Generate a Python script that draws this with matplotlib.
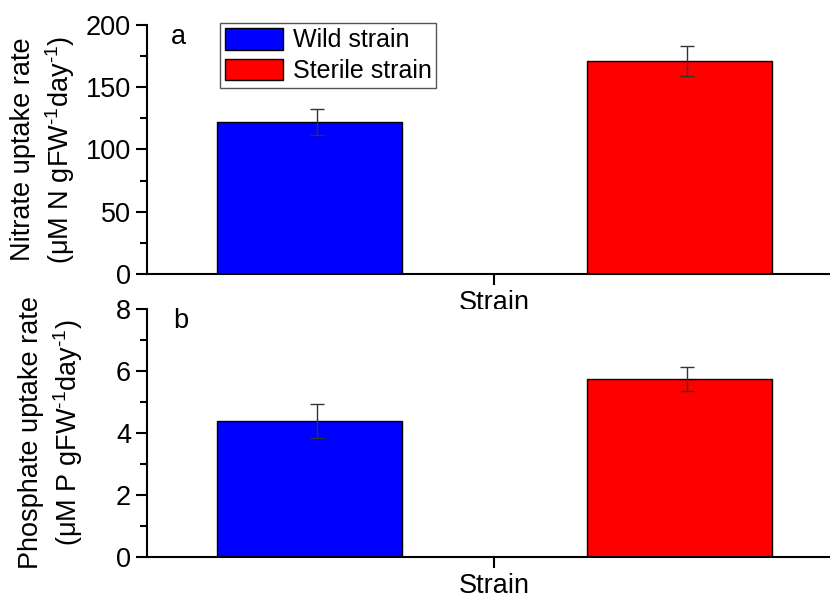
import matplotlib.pyplot as plt
from matplotlib.ticker import MultipleLocator

plt.rcParams['font.family'] = ['Liberation Sans', 'DejaVu Sans']
plt.rcParams['mathtext.fontset'] = 'custom'
plt.rcParams['mathtext.rm'] = 'Liberation Sans'
plt.rcParams['mathtext.default'] = 'regular'

# data
strains = ['Wild strain', 'Sterile strain']
colors = ['#0000ff', '#ff0000']
nitrate = [122, 171]
nitrate_err = [10.2, 12.2]
phosphate = [4.38, 5.73]
phosphate_err = [0.55, 0.39]
xpos = [0, 1]

fs = 19.5

fig = plt.figure(figsize=(8.3, 5.95), dpi=100)
ax1 = fig.add_axes([0.1771, 0.5395, 0.8229, 0.4185])
ax2 = fig.add_axes([0.1771, 0.0639, 0.8229, 0.4168])


def style(ax, ymax, major, minor):
    ax.set_xlim(-0.439, 1.408)
    ax.set_ylim(0, ymax)
    ax.yaxis.set_major_locator(MultipleLocator(major))
    ax.yaxis.set_minor_locator(MultipleLocator(minor))
    ax.set_xticks([0.5])
    ax.set_xticklabels(['Strain'])
    ax.spines['top'].set_visible(False)
    ax.spines['right'].set_visible(False)
    ax.spines['left'].set_linewidth(1.5)
    ax.spines['bottom'].set_linewidth(1.5)
    ax.tick_params(axis='both', which='major', direction='out', length=8,
                   width=1.5, labelsize=fs)
    ax.tick_params(axis='y', which='minor', direction='out', length=5, width=1.5)


for i in range(2):
    ax1.bar(xpos[i], nitrate[i], width=0.5, color=colors[i], edgecolor='black',
            linewidth=1, label=strains[i], zorder=2)
    ax1.errorbar(xpos[i] + 0.02, nitrate[i], yerr=nitrate_err[i], fmt='none',
                 ecolor='#333333', elinewidth=1, capsize=5, capthick=1, zorder=3)
    ax2.bar(xpos[i], phosphate[i], width=0.5, color=colors[i], edgecolor='black',
            linewidth=1, zorder=2)
    ax2.errorbar(xpos[i] + 0.02, phosphate[i], yerr=phosphate_err[i], fmt='none',
                 ecolor='#333333', elinewidth=1, capsize=5, capthick=1, zorder=3)

style(ax1, 200, 50, 25)
style(ax2, 8, 2, 1)

sup = r'$^{\text{-}1}$'
ax1.set_ylabel('Nitrate uptake rate\n(μM N gFW' + sup + 'day' + sup + ')',
               fontsize=fs, linespacing=1.3, labelpad=6)
ax2.set_ylabel('Phosphate uptake rate\n(μM P gFW' + sup + 'day' + sup + ')',
               fontsize=fs, linespacing=1.3, labelpad=22)

ax1.text(0.035, 0.95, 'a', transform=ax1.transAxes, fontsize=fs, va='center')
ax2.text(0.038, 0.95, 'b', transform=ax2.transAxes, fontsize=fs, va='center')

leg = ax1.legend(loc='upper left', bbox_to_anchor=(0.107, 1.008), fontsize=18,
                 frameon=True, fancybox=False, framealpha=1, edgecolor='#555555',
                 handlelength=2.3, handleheight=0.95, borderpad=0.2,
                 labelspacing=0.25, handletextpad=0.4, borderaxespad=0)
leg.get_frame().set_linewidth(1)

fig.savefig('out.png', dpi=100)
